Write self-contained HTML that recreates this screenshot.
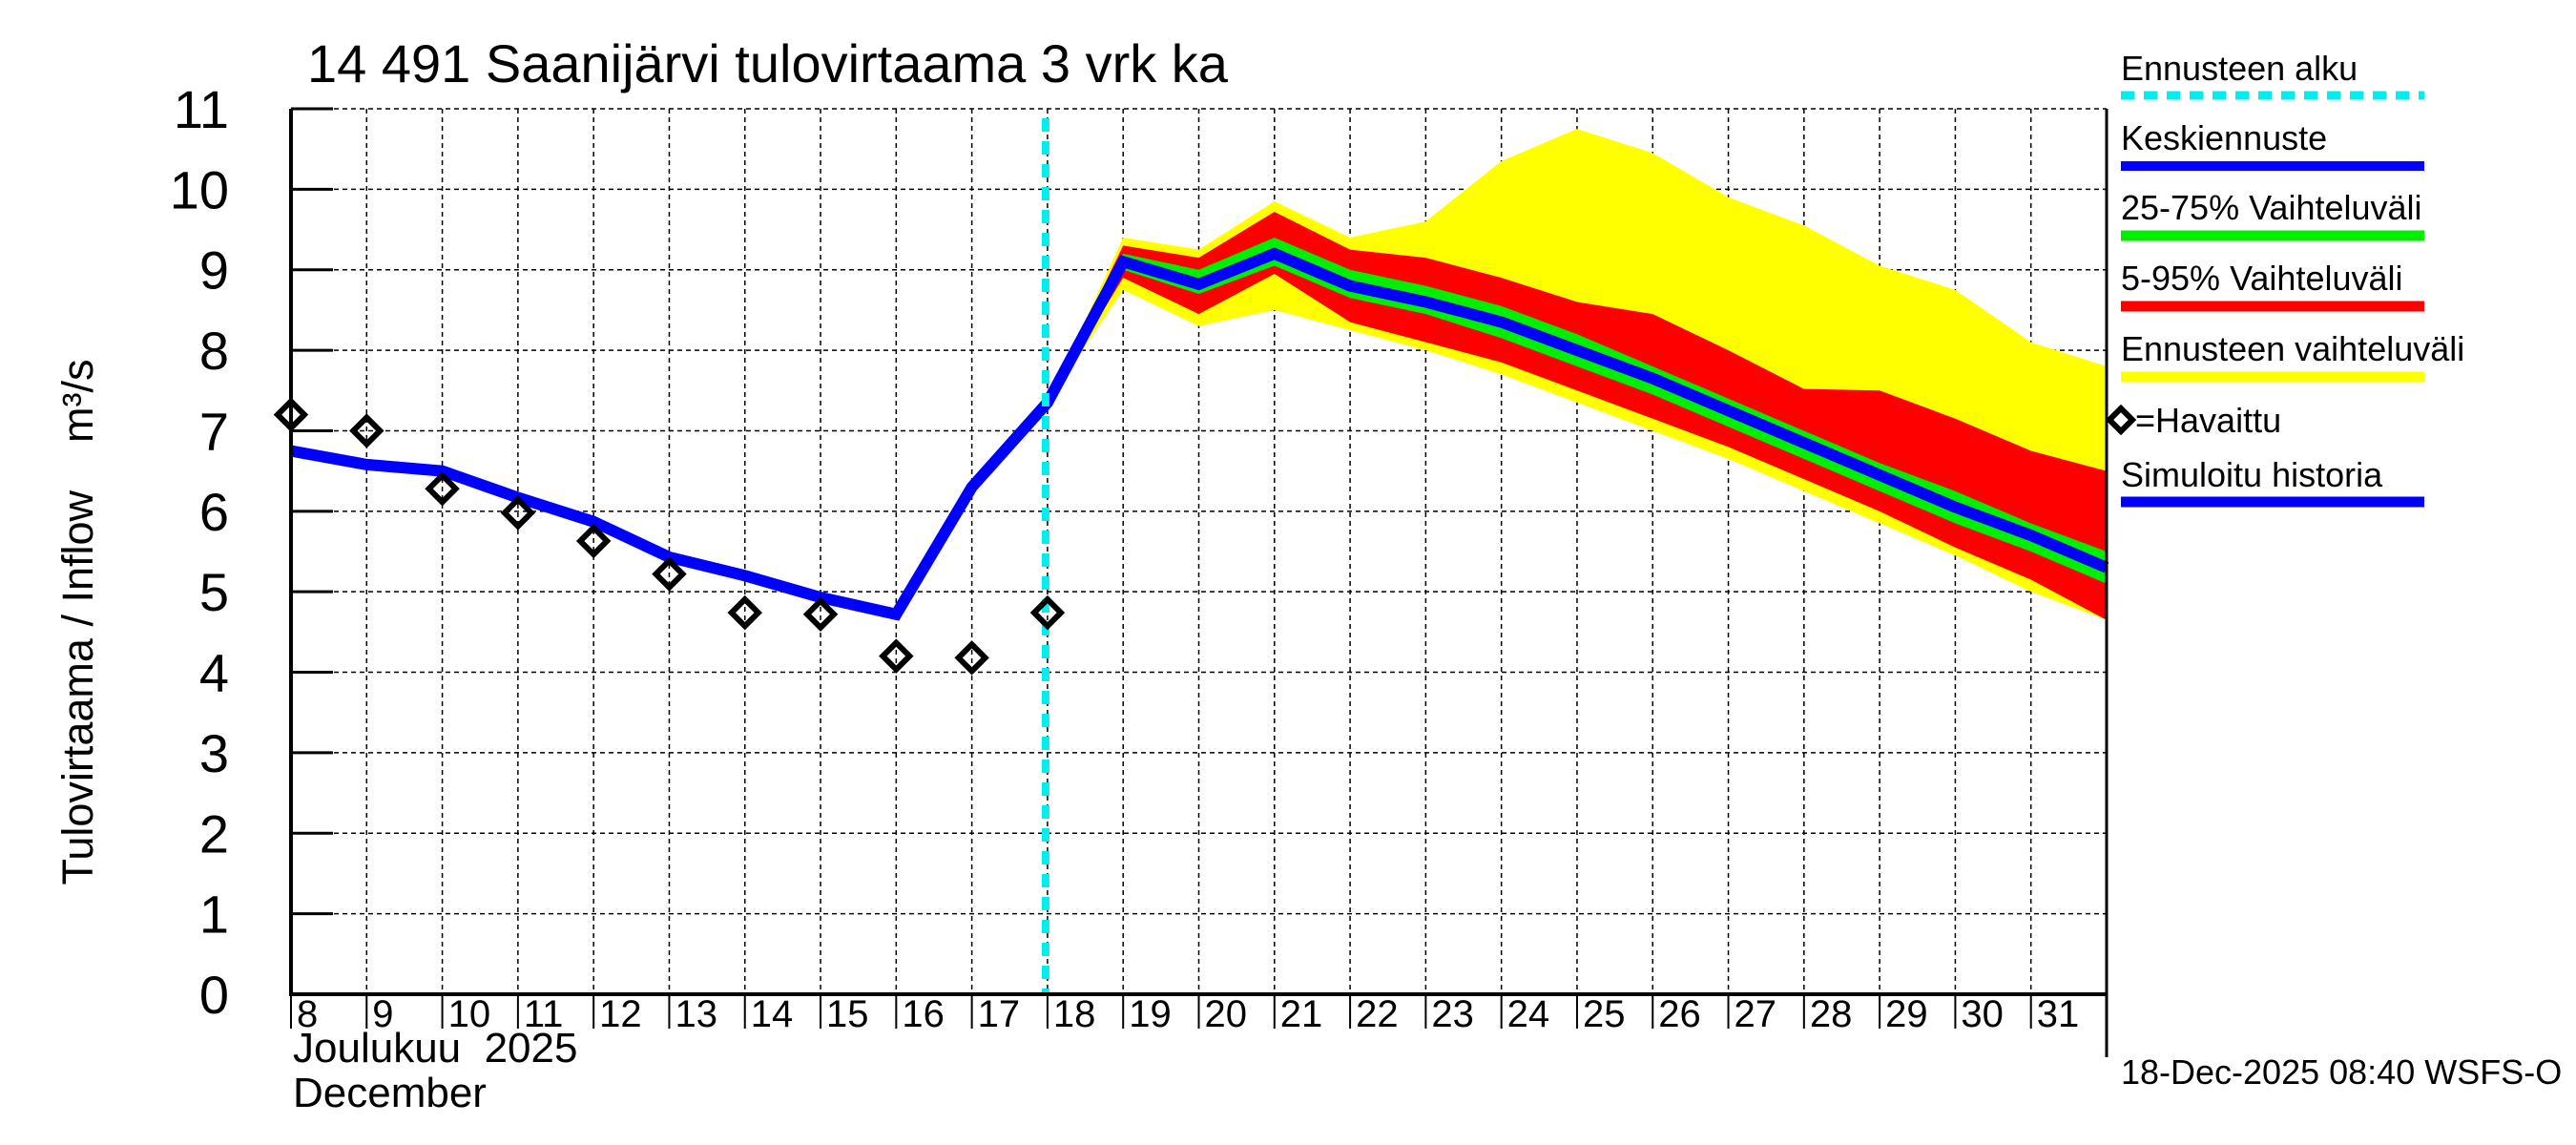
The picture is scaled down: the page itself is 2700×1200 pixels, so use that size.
<!DOCTYPE html>
<html><head><meta charset="utf-8"><style>
body{margin:0;background:#fff}
svg{display:block;font-family:"Liberation Sans",sans-serif}
</style></head><body>
<div style="position:relative;width:2700px;height:1200px">
<svg id="c" width="2700" height="1200" viewBox="0 0 2700 1200" style="position:absolute;left:0;top:0"></svg>
<svg width="2700" height="1200" style="position:absolute;left:0;top:0;pointer-events:none">
<text x="322" y="86" font-size="56">14 491 Saanijärvi tulovirtaama 3 vrk ka</text>
<text transform="translate(97,652) rotate(-90)" font-size="45" text-anchor="middle" xml:space="preserve">Tulovirtaama / Inflow    m³/s</text>
<text x="307" y="1113" font-size="44" xml:space="preserve">Joulukuu  2025</text>
<text x="307" y="1160" font-size="44">December</text>
<g font-size="36">
<text x="2223" y="84">Ennusteen alku</text>
<line x1="2223" x2="2541" y1="100" y2="100" stroke="#00eeee" stroke-width="9" stroke-dasharray="14,10"/>
<text x="2223" y="157">Keskiennuste</text>
<line x1="2223" x2="2541" y1="174" y2="174" stroke="#0000ff" stroke-width="10"/>
<text x="2223" y="230">25-75% Vaihteluväli</text>
<line x1="2223" x2="2541" y1="247" y2="247" stroke="#00ee00" stroke-width="11"/>
<text x="2223" y="304">5-95% Vaihteluväli</text>
<line x1="2223" x2="2541" y1="321" y2="321" stroke="#ff0000" stroke-width="11"/>
<text x="2223" y="378">Ennusteen vaihteluväli</text>
<line x1="2223" x2="2541" y1="395" y2="395" stroke="#ffff00" stroke-width="11"/>
<polygon points="2223,428 2235,440 2223,452 2211,440" fill="none" stroke="#000" stroke-width="6"/>
<text x="2238" y="453">=Havaittu</text>
<text x="2223" y="510">Simuloitu historia</text>
<line x1="2223" x2="2541" y1="526" y2="526" stroke="#0000ff" stroke-width="11"/>
</g>
<text x="2223" y="1136" font-size="36">18-Dec-2025 08:40 WSFS-O</text>
</svg>
</div>
<script>
const days=[8,9,10,11,12,13,14,15,16,17,18,19,20,21,22,23,24,25,26,27,28,29,30,31,32];
const simValues=[6.75,6.58,6.5,6.17,5.87,5.43,5.2,4.93,4.72,6.3,7.35,9.1,8.82,9.2,8.8,8.6,8.35,8.0,7.65,7.25,6.85,6.45,6.05,5.7,5.3];
const obsDays=[8,9,10,11,12,13,14,15,16,17,18];
const obsValues=[7.2,7.0,6.28,5.98,5.63,5.22,4.74,4.72,4.2,4.18,4.74];
const fcDays=[18,19,20,21,22,23,24,25,26,27,28,29,30,31,32];
const yelMax=[7.35,9.4,9.25,9.85,9.4,9.6,10.35,10.75,10.45,9.9,9.55,9.05,8.75,8.1,7.8];
const yelMin=[7.35,8.75,8.3,8.5,8.25,8.0,7.7,7.35,7.0,6.65,6.25,5.85,5.45,5.0,4.65];
const redMax=[7.35,9.3,9.15,9.72,9.25,9.15,8.9,8.6,8.45,8.0,7.52,7.5,7.15,6.75,6.5];
const redMin=[7.35,8.9,8.45,8.95,8.35,8.1,7.85,7.5,7.15,6.8,6.4,6.0,5.55,5.15,4.65];
const grnMax=[7.35,9.2,9.0,9.4,9.0,8.8,8.55,8.2,7.8,7.4,7.0,6.6,6.25,5.85,5.5];
const grnMin=[7.35,9.0,8.7,9.05,8.65,8.45,8.15,7.8,7.45,7.05,6.65,6.25,5.85,5.5,5.1];
const yTicks=[0,1,2,3,4,5,6,7,8,9,10,11];
const xTickLabels=["8","9","10","11","12","13","14","15","16","17","18","19","20","21","22","23","24","25","26","27","28","29","30","31"];
const forecastStart=18;

const L=305,R=2208,T=114,B=1042;
const X=d=>L+(d-8)*(R-L)/24;
const Y=v=>B-v*(B-T)/11;
const svg=document.getElementById('c');
const NS='http://www.w3.org/2000/svg';
function mk(tag,attrs,parent){const e=document.createElementNS(NS,tag);for(const k in attrs)e.setAttribute(k,attrs[k]);(parent||svg).appendChild(e);return e;}

const grid=mk('g',{});


yTicks.forEach(v=>{if(v>0){mk('line',{x1:L,x2:R,y1:Y(v),y2:Y(v),stroke:'#000','stroke-width':1.5,'stroke-dasharray':'5,4'},grid);}});
for(let d=9;d<=31;d++){mk('line',{x1:X(d),x2:X(d),y1:T,y2:B,stroke:'#000','stroke-width':1.5,'stroke-dasharray':'5,4'},grid);}

function band(top,bot,color,name){
  let p='';
  fcDays.forEach((d,i)=>{p+=(i?'L':'M')+X(d)+','+Y(top[i]);});
  for(let i=fcDays.length-1;i>=0;i--)p+='L'+X(fcDays[i])+','+Y(bot[i]);
  const e=mk('path',{d:p+'Z',fill:color});
  
  
}
band(yelMax,yelMin,'#ffff00','forecast-range-band');
band(redMax,redMin,'#ff0000','band-5-95');
band(grnMax,grnMin,'#00ee00','band-25-75');

const sl=mk('polyline',{points:days.map((d,i)=>X(d)+','+Y(simValues[i])).join(' '),fill:'none',stroke:'#0000ff','stroke-width':12,'stroke-linejoin':'miter'});



const fs=mk('line',{x1:X(forecastStart)-2,x2:X(forecastStart)-2,y1:T+10,y2:B,stroke:'#00eeee','stroke-width':8,'stroke-dasharray':'14,10'});



obsDays.forEach((d,i)=>{
  const x=X(d),y=Y(obsValues[i]),s=14;
  const e=mk('polygon',{points:`${x},${y-s} ${x+s},${y} ${x},${y+s} ${x-s},${y}`,fill:'none',stroke:'#000','stroke-width':6});
  
  
});

mk('line',{x1:L,x2:L,y1:T,y2:B+2,stroke:'#000','stroke-width':4});
mk('line',{x1:L,x2:R,y1:B,y2:B,stroke:'#000','stroke-width':4});
mk('line',{x1:R,x2:R,y1:T,y2:1108,stroke:'#000','stroke-width':3});
yTicks.forEach(v=>{
  mk('line',{x1:L,x2:L+44,y1:Y(v),y2:Y(v),stroke:'#000','stroke-width':3});
  const t=mk('text',{x:240,y:Y(v)+20,'font-size':56,'text-anchor':'end'});
  t.textContent=v;
  
  
});
xTickLabels.forEach((s,i)=>{
  const d=8+i;
  mk('line',{x1:X(d),x2:X(d),y1:B,y2:B+36,stroke:'#000','stroke-width':2});
  const t=mk('text',{x:X(d)+6,y:1076,'font-size':40});
  t.textContent=s;
  
  
});
</script>
</body></html>
